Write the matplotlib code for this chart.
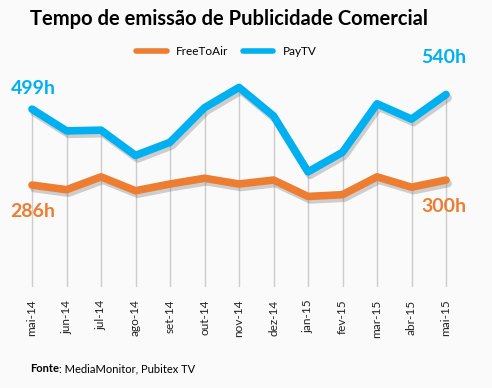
import matplotlib
matplotlib.use("Agg")
import matplotlib.pyplot as plt
import matplotlib.patheffects as pe

plt.rcParams['font.family'] = ['Lato', 'DejaVu Sans']

months = ['mai-14', 'jun-14', 'jul-14', 'ago-14', 'set-14', 'out-14', 'nov-14',
          'dez-14', 'jan-15', 'fev-15', 'mar-15', 'abr-15', 'mai-15']
pay_tv = [499, 438, 440, 369, 406, 503, 560, 480, 323, 378, 514, 471, 540]
free_to_air = [286, 273, 309, 270, 289, 305, 289, 300, 254, 259, 309, 280, 300]

ORANGE = '#ED7D31'
BLUE = '#00B0F0'
BG = '#fafafa'

fig = plt.figure(figsize=(4.92, 3.88), dpi=100, facecolor=BG)
ax = fig.add_axes([0.030, 0.2603, 0.9116, 0.5696], facecolor=BG)

x = list(range(len(months)))

# drop lines from the highest series down to the axis
tops = [max(a, b) for a, b in zip(pay_tv, free_to_air)]
ax.vlines(x, 0, tops, color='#cccccc', lw=1, zorder=1)

shadow = [pe.SimpleLineShadow(offset=(1.5, -2.5), shadow_color='#666666', alpha=0.3),
          pe.Normal()]
ax.plot(x, free_to_air, color=ORANGE, lw=5.5, solid_capstyle='round',
        solid_joinstyle='round', path_effects=shadow, zorder=3, label='FreeToAir')
ax.plot(x, pay_tv, color=BLUE, lw=5.5, solid_capstyle='round',
        solid_joinstyle='round', path_effects=shadow, zorder=3, label='PayTV')

ax.set_xlim(-0.5, 12.5)
ax.set_ylim(0, 620)
ax.set_yticks([])
ax.set_xticks(x)
ax.set_xticklabels(months, rotation=90, fontsize=8.5, color='#222222')
ax.tick_params(axis='x', length=0, pad=9)
for s in ax.spines.values():
    s.set_visible(False)

# value labels for first and last points
ax.text(-0.62, pay_tv[0] + 57, f'{pay_tv[0]}h', color=BLUE, fontsize=14,
        fontweight='bold', ha='left', va='center')
ax.text(12.6, pay_tv[-1] + 103, f'{pay_tv[-1]}h', color=BLUE, fontsize=14,
        fontweight='bold', ha='right', va='center')
ax.text(-0.62, free_to_air[0] - 75, f'{free_to_air[0]}h', color=ORANGE, fontsize=14,
        fontweight='bold', ha='left', va='center')
ax.text(12.6, free_to_air[-1] - 75, f'{free_to_air[-1]}h', color=ORANGE, fontsize=14,
        fontweight='bold', ha='right', va='center')

fig.text(0.466, 0.952, 'Tempo de emissão de Publicidade Comercial', fontsize=14.5,
         fontweight='bold', ha='center', va='center')

leg = fig.legend(loc='center', bbox_to_anchor=(0.46, 0.866), ncol=2, frameon=False,
                 fontsize=8.5, handlelength=2.6, columnspacing=1.2, handletextpad=0.8)
for h in leg.get_lines():
    h.set_linewidth(4)
    h.set_path_effects([])

t1 = fig.text(0.061, 0.04, 'Fonte', fontsize=8, fontweight='bold', va='baseline')
ax.annotate(': MediaMonitor, Pubitex TV', xy=(1, 0), xycoords=t1,
            fontsize=8, va='bottom', ha='left', annotation_clip=False)

fig.savefig('out.png', dpi=100, facecolor=BG)
